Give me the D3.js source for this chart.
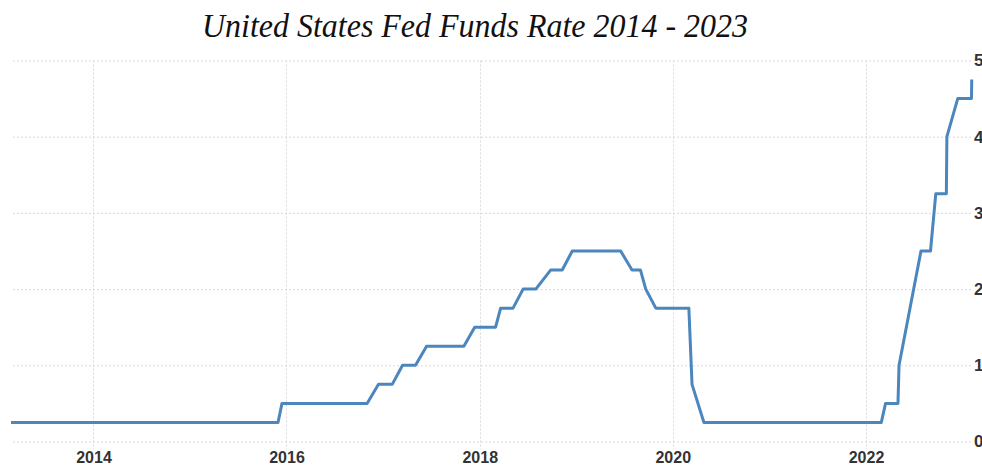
<!DOCTYPE html>
<html>
<head>
<meta charset="utf-8">
<script src="https://cdn.jsdelivr.net/npm/d3@7"></script>
<style>
  body { margin: 0; background: #fff; overflow: hidden; }
  .tick text { font-family: "Liberation Sans", Arial, sans-serif; font-weight: bold; fill: #333; }
</style>
</head>
<body>
<div id="chart"></div>
<script>
// Fed funds rate (change points only)
let dates = [
    "2013-02-23", "2015-11-30", "2015-12-15", "2016-11-01", "2016-12-14",
    "2017-02-04", "2017-03-15", "2017-05-03", "2017-06-14", "2017-11-02",
    "2017-12-13", "2018-03-02", "2018-03-21", "2018-05-07", "2018-06-14",
    "2018-08-01", "2018-09-26", "2018-11-09", "2018-12-17", "2019-06-18",
    "2019-07-31", "2019-09-01", "2019-09-21", "2019-10-29", "2020-03-02",
    "2020-03-14", "2020-04-28", "2022-02-28", "2022-03-16", "2022-05-02",
    "2022-05-06", "2022-07-28", "2022-09-02", "2022-09-22", "2022-11-01",
    "2022-11-03", "2022-12-14", "2023-02-04", "2023-02-05"
];
let rates = [
    0.25, 0.25, 0.5, 0.5, 0.75,
    0.75, 1.0, 1.0, 1.25, 1.25,
    1.5, 1.5, 1.75, 1.75, 2.0,
    2.0, 2.25, 2.25, 2.5, 2.5,
    2.25, 2.25, 2.0, 1.75, 1.75,
    0.75, 0.25, 0.25, 0.5, 0.5,
    1.0, 2.5, 2.5, 3.25, 3.25,
    4.0, 4.5, 4.5, 4.75
];
let xTickYears = [2014, 2016, 2018, 2020, 2022];
let yTicks = [0, 1, 2, 3, 4, 5];
let chartTitle = "United States Fed Funds Rate 2014 - 2023";

let svgWidth = 982;
let svgHeight = 466;

let plot = { left: 11, right: 971, top: 60.5, bottom: 441.5 };

let parseDate = d3.timeParse("%Y-%m-%d");
let data = dates.map((d, i) => ({ date: parseDate(d), rate: rates[i] }));

let svg = d3.select("#chart")
    .append("svg")
    .attr("width", svgWidth)
    .attr("height", svgHeight);

// scales
let x = d3.scaleTime()
    .domain([parseDate("2013-02-23"), parseDate("2023-02-06")])
    .range([plot.left, plot.right + 1]);

let y = d3.scaleLinear()
    .domain([0, 5])
    .range([plot.bottom, plot.top]);

let tickDates = xTickYears.map(yr => new Date(yr, 0, 1));

// vertical grid
svg.append("g")
    .selectAll("line")
    .data(tickDates)
    .join("line")
    .attr("x1", d => Math.round(x(d)) + 0.5)
    .attr("x2", d => Math.round(x(d)) + 0.5)
    .attr("y1", plot.top)
    .attr("y2", 449)
    .attr("stroke", "#d9d9d9")
    .attr("stroke-dasharray", "2,2");

// right axis with horizontal grid
let rightAxis = d3.axisRight(y)
    .tickValues(yTicks)
    .tickSize(-(plot.right - plot.left))
    .tickPadding(3)
    .tickFormat(d3.format("d"));

let yAxis = svg.append("g")
    .attr("transform", `translate(${plot.right}, 0)`)
    .call(rightAxis);
yAxis.select(".domain").remove();
yAxis.selectAll(".tick line")
    .attr("stroke", "#d9d9d9")
    .attr("stroke-dasharray", "2,2");
yAxis.selectAll(".tick text")
    .style("font-size", "17px");

// bottom axis labels
let bottomAxis = d3.axisBottom(x)
    .tickValues(tickDates)
    .tickSize(0)
    .tickPadding(10)
    .tickFormat(d3.timeFormat("%Y"));

let xAxis = svg.append("g")
    .attr("transform", `translate(0, ${plot.bottom})`)
    .call(bottomAxis);
xAxis.select(".domain").remove();
xAxis.selectAll(".tick text")
    .style("font-size", "16px");

// rate line
let line = d3.line()
    .x(d => x(d.date))
    .y(d => y(d.rate));

svg.append("path")
    .datum(data)
    .attr("d", line)
    .attr("fill", "none")
    .attr("stroke", "#4b86bd")
    .attr("stroke-width", 3)
    .attr("stroke-linejoin", "round");

// title
svg.append("text")
    .attr("x", 475)
    .attr("y", 37)
    .attr("text-anchor", "middle")
    .attr("textLength", 546)
    .attr("lengthAdjust", "spacingAndGlyphs")
    .style("font-family", "'Liberation Serif', 'Times New Roman', serif")
    .style("font-style", "italic")
    .style("font-size", "34px")
    .style("fill", "#111")
    .text(chartTitle);
</script>
</body>
</html>
